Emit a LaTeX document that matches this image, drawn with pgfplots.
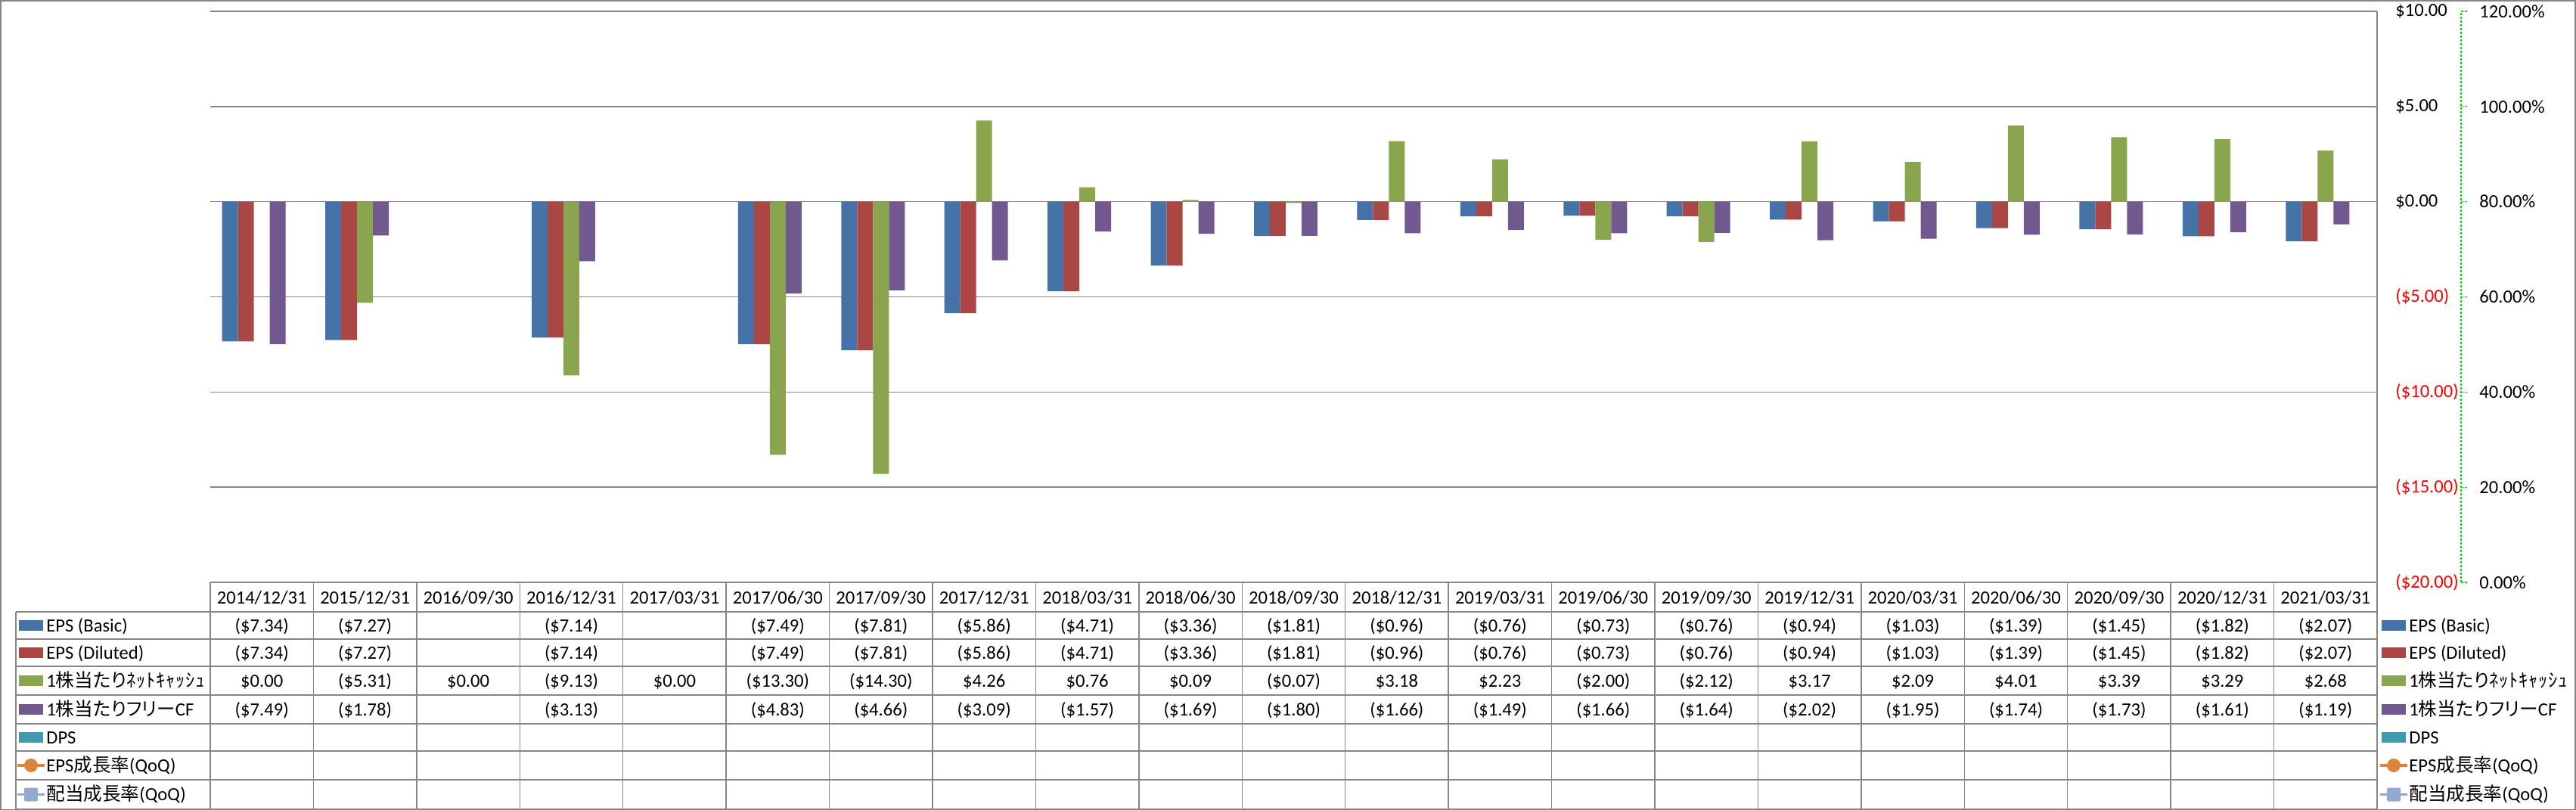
\documentclass[border=0pt]{standalone}
\usepackage{pgfplots}
\pgfplotsset{compat=1.18}
\usepackage{fontspec}
\setmainfont{Carlito}
\newfontfamily\jp[RawFeature=+palt]{Noto Sans CJK JP}
\newfontfamily\jpk[LetterSpace=3]{Noto Sans CJK JP}
\definecolor{cblue}{HTML}{4572A7}
\definecolor{cred}{HTML}{AA4643}
\definecolor{cgreen}{HTML}{89A54E}
\definecolor{cpurple}{HTML}{71588F}
\definecolor{cteal}{HTML}{4198AF}
\definecolor{corange}{HTML}{DB843D}
\definecolor{clblue}{HTML}{93A9CF}
\definecolor{gridgray}{HTML}{868686}
\definecolor{lgreen}{HTML}{00E000}
\newcommand{\tf}{\fontsize{12.3}{14.8}\selectfont}
\newcommand{\tablerow}[2]{%
  \foreach \v [count=\i from 0] in {#2}{%
    \node[anchor=base, font=\tf, inner sep=0pt] at ({(139+(\i+0.5)*68.2143)*1pt},-#1pt) {\v};
  }%
}
% bar legend key: xleft, row center, color, text
\newcommand{\barkey}[4]{%
  \fill[#3] (#1pt,-#2pt) ++(0,-3.5pt) rectangle ++(16pt,7pt);
  \node[anchor=base west, inner sep=0pt, font=\tf] at (#1pt+18pt,-#2pt-4pt) {#4};
}
\newcommand{\circkey}[4]{%
  \draw[#3, line width=1.8pt] (#1pt-1pt,-#2pt) -- ++(18pt,0);
  \fill[#3] (#1pt+8pt,-#2pt) circle (4.5pt);
  \node[anchor=base west, inner sep=0pt, font=\tf] at (#1pt+18pt,-#2pt-4pt) {#4};
}
\newcommand{\sqkey}[4]{%
  \draw[#3, line width=1.8pt] (#1pt-1pt,-#2pt) -- ++(18pt,0);
  \fill[#3, rounded corners=1pt] (#1pt+3.5pt,-#2pt-4.5pt) rectangle ++(9pt,9pt);
  \node[anchor=base west, inner sep=0pt, font=\tf] at (#1pt+18pt,-#2pt-4pt) {#4};
}
\begin{document}
\begin{tikzpicture}
\useasboundingbox (0,0) rectangle (1703pt,-535.5pt);

\begin{axis}[
  at={(139pt,-385pt)}, anchor=south west,
  width=1432.5pt, height=377.5pt, scale only axis,
  xmin=-0.5, xmax=20.5, ymin=-20, ymax=10,
  axis x line=none,
  axis y line*=right,
  y axis line style={draw=gridgray, line width=0.7pt},
  ytick={-20,-15,...,10},
  yticklabels={\textcolor{red}{(\$20.00)},\textcolor{red}{(\$15.00)},\textcolor{red}{(\$10.00)},\textcolor{red}{(\$5.00)},\$0.00,\$5.00,\$10.00},
  ymajorgrids, grid style={draw=gridgray, line width=0.7pt},
  major tick length=0pt,
  yticklabel style={anchor=west, inner sep=0pt, xshift=12pt, font=\tf},
]
\addplot[ybar, bar width=0.1539, bar shift=-0.3078, fill=cblue, draw=none] coordinates {
 (0,-7.34) (1,-7.27) (3,-7.14) (5,-7.49) (6,-7.81) (7,-5.86) (8,-4.71) (9,-3.36) (10,-1.81) (11,-0.96)
 (12,-0.76) (13,-0.73) (14,-0.76) (15,-0.94) (16,-1.03) (17,-1.39) (18,-1.45) (19,-1.82) (20,-2.07)};
\addplot[ybar, bar width=0.1539, bar shift=-0.1539, fill=cred, draw=none] coordinates {
 (0,-7.34) (1,-7.27) (3,-7.14) (5,-7.49) (6,-7.81) (7,-5.86) (8,-4.71) (9,-3.36) (10,-1.81) (11,-0.96)
 (12,-0.76) (13,-0.73) (14,-0.76) (15,-0.94) (16,-1.03) (17,-1.39) (18,-1.45) (19,-1.82) (20,-2.07)};
\addplot[ybar, bar width=0.1539, bar shift=0, fill=cgreen, draw=none] coordinates {
 (0,0) (1,-5.31) (2,0) (3,-9.13) (4,0) (5,-13.30) (6,-14.30) (7,4.26) (8,0.76) (9,0.09) (10,-0.07)
 (11,3.18) (12,2.23) (13,-2.00) (14,-2.12) (15,3.17) (16,2.09) (17,4.01) (18,3.39) (19,3.29) (20,2.68)};
\addplot[ybar, bar width=0.1539, bar shift=0.1539, fill=cpurple, draw=none] coordinates {
 (0,-7.49) (1,-1.78) (3,-3.13) (5,-4.83) (6,-4.66) (7,-3.09) (8,-1.57) (9,-1.69) (10,-1.80) (11,-1.66)
 (12,-1.49) (13,-1.66) (14,-1.64) (15,-2.02) (16,-1.95) (17,-1.74) (18,-1.73) (19,-1.61) (20,-1.19)};
\end{axis}

\begin{axis}[
  at={(1627pt,-385pt)}, anchor=south east,
  width=2pt, height=377.5pt, scale only axis,
  xmin=0, xmax=1, ymin=0, ymax=120,
  axis x line=none, axis y line*=right,
  y axis line style={draw=lgreen, dash pattern=on 1.5pt off 1pt, line width=0.6pt},
  ytick={0,20,...,120},
  yticklabels={0.00\%,20.00\%,40.00\%,60.00\%,80.00\%,100.00\%,120.00\%},
  tick align=outside, major tick length=4pt,
  ytick style={draw=lgreen, dash pattern=on 1.5pt off 1pt, line width=0.6pt},
  yticklabel style={anchor=west, inner sep=0pt, xshift=8pt, font=\tf},
]
\end{axis}

% outer border
\draw[gridgray, line width=0.7pt] (0.6pt,-0.4pt) rectangle (1702.4pt,-535.1pt);

% data table grid
\begin{scope}[gridgray, line width=0.7pt]
\draw (139pt,-385pt) -- (1571.5pt,-385pt);
\foreach \yy in {404.5,422.5,440.5,459.5,478.5,496.5,515.5,535}
  \draw (10.5pt,-\yy pt) -- (1571.5pt,-\yy pt);
\draw (10.5pt,-404.5pt) -- (10.5pt,-535pt);
\foreach \i in {0,...,21}
  \draw ({(139+\i*68.2143)*1pt},-385pt) -- ({(139+\i*68.2143)*1pt},-535pt);
\end{scope}

% header
\tablerow{399}{2014/12/31,2015/12/31,2016/09/30,2016/12/31,2017/03/31,2017/06/30,2017/09/30,2017/12/31,2018/03/31,2018/06/30,2018/09/30,2018/12/31,2019/03/31,2019/06/30,2019/09/30,2019/12/31,2020/03/31,2020/06/30,2020/09/30,2020/12/31,2021/03/31}
% EPS basic
\tablerow{417.5}{(\$7.34),(\$7.27),{},(\$7.14),{},(\$7.49),(\$7.81),(\$5.86),(\$4.71),(\$3.36),(\$1.81),(\$0.96),(\$0.76),(\$0.73),(\$0.76),(\$0.94),(\$1.03),(\$1.39),(\$1.45),(\$1.82),(\$2.07)}
% EPS diluted
\tablerow{435.5}{(\$7.34),(\$7.27),{},(\$7.14),{},(\$7.49),(\$7.81),(\$5.86),(\$4.71),(\$3.36),(\$1.81),(\$0.96),(\$0.76),(\$0.73),(\$0.76),(\$0.94),(\$1.03),(\$1.39),(\$1.45),(\$1.82),(\$2.07)}
% net cash
\tablerow{454}{\$0.00,(\$5.31),\$0.00,(\$9.13),\$0.00,(\$13.30),(\$14.30),\$4.26,\$0.76,\$0.09,(\$0.07),\$3.18,\$2.23,(\$2.00),(\$2.12),\$3.17,\$2.09,\$4.01,\$3.39,\$3.29,\$2.68}
% FCF
\tablerow{473}{(\$7.49),(\$1.78),{},(\$3.13),{},(\$4.83),(\$4.66),(\$3.09),(\$1.57),(\$1.69),(\$1.80),(\$1.66),(\$1.49),(\$1.66),(\$1.64),(\$2.02),(\$1.95),(\$1.74),(\$1.73),(\$1.61),(\$1.19)}

% left legend (table)
\barkey{12.5}{413.5}{cblue}{EPS (Basic)}
\barkey{12.5}{431.5}{cred}{EPS (Diluted)}
\barkey{12.5}{450}{cgreen}{1{\jp 株当たり}{\jpk ﾈｯﾄｷｬｯｼｭ}}
\barkey{12.5}{469}{cpurple}{1{\jp 株当たりフリー}CF}
\barkey{12.5}{487.5}{cteal}{DPS}
\circkey{12.5}{506}{corange}{EPS{\jp 成長率}(QoQ)}
\sqkey{12.5}{525.25}{clblue}{{\jp 配当成長率}(QoQ)}

% right legend
\barkey{1574.5}{413.5}{cblue}{EPS (Basic)}
\barkey{1574.5}{431.5}{cred}{EPS (Diluted)}
\barkey{1574.5}{450}{cgreen}{1{\jp 株当たり}{\jpk ﾈｯﾄｷｬｯｼｭ}}
\barkey{1574.5}{469}{cpurple}{1{\jp 株当たりフリー}CF}
\barkey{1574.5}{487.5}{cteal}{DPS}
\circkey{1574.5}{506}{corange}{EPS{\jp 成長率}(QoQ)}
\sqkey{1574.5}{525.25}{clblue}{{\jp 配当成長率}(QoQ)}
\end{tikzpicture}
\end{document}
